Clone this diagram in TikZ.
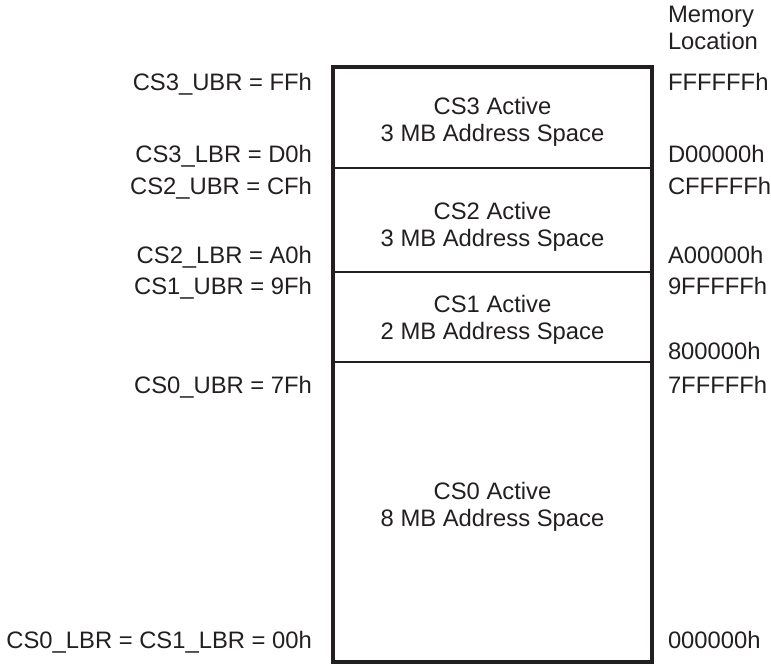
\documentclass[tikz,border=0pt]{standalone}
\usepackage{fontspec}
\setmainfont{Liberation Sans}
\usetikzlibrary{positioning}
\definecolor{inkGray}{HTML}{231F20}
\tikzset{
    % Text
    lbl/.style={inner sep=0pt, outer sep=0pt, text=inkGray,
                font=\fontsize{23.8}{26.7}\selectfont},
    leftLbl/.style={lbl, anchor=base east},
    rightLbl/.style={lbl, anchor=base west},
    blockTxt/.style={lbl, align=center},
    % Memory blocks
    region/.style={rectangle, draw=inkGray, line width=1.2pt, inner sep=0pt, outer sep=0pt,
                   minimum width=319pt},
    frame/.style={draw=inkGray, line width=3.5pt}
}

\begin{document}
\begin{tikzpicture}[x=1pt, y=-1pt, node distance=0pt]
\useasboundingbox (0,0) rectangle (771,665);

% chip select regions, top to bottom
\node[region, minimum height=101pt] (cs3) at (492.5,117.5) {};
\node[region, minimum height=104pt, below=of cs3] (cs2) {};
\node[region, minimum height=90pt, below=of cs2] (cs1) {};
\node[region, minimum height=300pt, below=of cs1] (cs0) {};

\draw[frame] (cs3.north west) rectangle (cs0.south east);

\node[blockTxt, yshift=-4pt] (txt3) at (cs3) {CS3 Active\\3 MB Address Space};
\node[blockTxt, yshift=-7pt] (txt2) at (cs2) {CS2 Active\\3 MB Address Space};
\node[blockTxt, yshift=-3pt] (txt1) at (cs1) {CS1 Active\\2 MB Address Space};
\node[blockTxt, yshift=5pt]  (txt0) at (cs0) {CS0 Active\\8 MB Address Space};

% register values
\node[leftLbl] (ubr3) at (312,90)  {CS3\_UBR = FFh};
\node[leftLbl] (lbr3) at (312,162) {CS3\_LBR = D0h};
\node[leftLbl] (ubr2) at (312,194) {CS2\_UBR = CFh};
\node[leftLbl] (lbr2) at (312,263) {CS2\_LBR = A0h};
\node[leftLbl] (ubr1) at (312,294) {CS1\_UBR = 9Fh};
\node[leftLbl] (ubr0) at (312,393) {CS0\_UBR = 7Fh};
\node[leftLbl] (lbr0) at (312,648) {CS0\_LBR = CS1\_LBR = 00h};

% addresses
\node[lbl, anchor=north west, align=left] (memloc) at (668,6) {Memory\\Location};
\node[rightLbl] (adrF) at (668,90)  {FFFFFFh};
\node[rightLbl] (adrD) at (668,162) {D00000h};
\node[rightLbl] (adrC) at (668,194) {CFFFFFh};
\node[rightLbl] (adrA) at (668,263) {A00000h};
\node[rightLbl] (adr9) at (668,294) {9FFFFFh};
\node[rightLbl] (adr8) at (668,359) {800000h};
\node[rightLbl] (adr7) at (668,393) {7FFFFFh};
\node[rightLbl] (adr0) at (668,648) {000000h};

\end{tikzpicture}
\end{document}
